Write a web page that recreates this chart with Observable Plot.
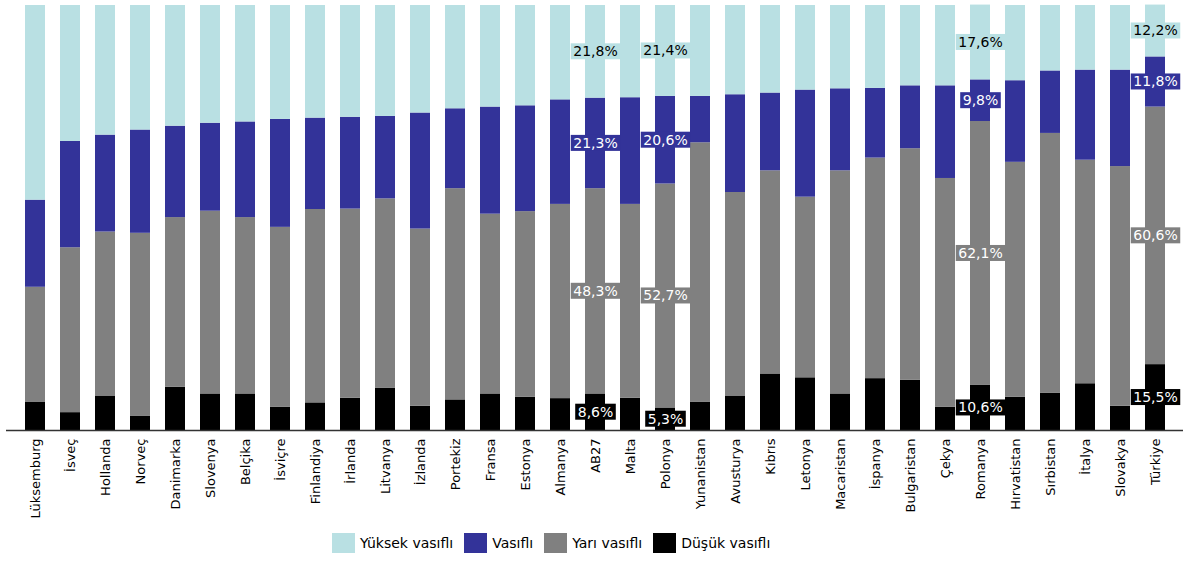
<!DOCTYPE html>
<html>
<head>
<meta charset="utf-8">
<script src="https://cdn.jsdelivr.net/npm/d3@7"></script>
<script src="https://cdn.jsdelivr.net/npm/@observablehq/plot@0.6"></script>
<style>
  html, body { margin: 0; padding: 0; background: #fff; }
  #chart { width: 1196px; }
  .legend { display: flex; align-items: center; margin: 8px 0 0 332px; font-family: "DejaVu Sans", sans-serif; font-size: 14px; color: #000; }
  .legend .sw { width: 23px; height: 20px; margin-right: 5px; }
  .legend .item { display: flex; align-items: center; margin-right: 11px; }
</style>
</head>
<body>
<div id="chart"></div>
<script>
// Countries, in the order drawn
const countries = ["Lüksemburg","İsveç","Hollanda","Norveç","Danimarka","Slovenya","Belçika","İsviçre","Finlandiya","İrlanda","Litvanya","İzlanda","Portekiz","Fransa","Estonya","Almanya","AB27","Malta","Polonya","Yunanistan","Avusturya","Kıbrıs","Letonya","Macaristan","İspanya","Bulgaristan","Çekya","Romanya","Hırvatistan","Sırbistan","İtalya","Slovakya","Türkiye"];

// Share of employment by skill level (%)
const dusuk   = [6.7, 4.2, 8.0, 3.4, 10.2, 8.6, 8.6, 5.5, 6.5, 7.6, 9.9, 5.7, 7.2, 8.6, 7.8, 7.5, 8.6, 7.6, 5.3, 6.6, 8.0, 13.3, 12.4, 8.6, 12.2, 11.8, 5.5, 10.6, 7.8, 8.8, 11.0, 5.7, 15.5];
const yari    = [27.0, 38.8, 38.7, 43.0, 39.9, 43.0, 41.5, 42.3, 45.5, 44.5, 44.6, 41.7, 49.7, 42.3, 43.7, 45.7, 48.3, 45.6, 52.7, 61.1, 48.0, 47.8, 42.5, 52.5, 51.9, 54.5, 53.8, 62.1, 55.3, 61.1, 52.6, 56.4, 60.6];
const vasifli = [20.5, 25.0, 22.8, 24.3, 21.5, 20.7, 22.5, 25.4, 21.5, 21.6, 19.4, 27.3, 18.8, 25.2, 24.9, 24.6, 21.3, 25.1, 20.6, 10.9, 23.0, 18.3, 25.2, 19.3, 16.4, 14.8, 21.8, 9.8, 19.2, 14.7, 21.2, 22.7, 11.8];
const yuksek  = [45.8, 32.0, 30.5, 29.3, 28.4, 27.7, 27.4, 26.8, 26.5, 26.3, 26.1, 25.3, 24.3, 23.9, 23.6, 22.2, 21.8, 21.7, 21.4, 21.4, 21.0, 20.6, 19.9, 19.6, 19.5, 18.9, 18.9, 17.6, 17.7, 15.4, 15.2, 15.2, 12.2];

// Stack order, bottom to top
const series = ["Düşük vasıflı", "Yarı vasıflı", "Vasıflı", "Yüksek vasıflı"];
const colors = ["#000000", "#808080", "#333399", "#b9e0e3"];
const seriesValues = [dusuk, yari, vasifli, yuksek];

// Bars that carry value labels
const labeled = ["AB27", "Polonya", "Romanya", "Türkiye"];

const rows = [];
countries.forEach((c, i) => {
  series.forEach((s, k) => rows.push({country: c, cat: s, value: seriesValues[k][i]}));
});

// Label rows with the mid-point of each stacked segment
const labelRows = [];
labeled.forEach(c => {
  const i = countries.indexOf(c);
  let base = 0;
  series.forEach((s, k) => {
    const v = seriesValues[k][i];
    labelRows.push({country: c, cat: s, value: v, mid: base + v / 2});
    base += v;
  });
});
const fmt = v => v.toFixed(1).replace(".", ",") + "%";
const colorOf = s => colors[series.indexOf(s)];
const darkRows = labelRows.filter(d => d.cat === "Yüksek vasıflı");
const lightRows = labelRows.filter(d => d.cat !== "Yüksek vasıflı");

const chart = Plot.plot({
  width: 1196,
  height: 525,
  marginTop: 5,
  marginBottom: 95,
  marginLeft: 6,
  marginRight: 13,
  style: {fontFamily: "DejaVu Sans, sans-serif", fontSize: "13px", color: "#000", background: "#fff"},
  x: {domain: countries, paddingInner: 0.44, paddingOuter: 0.22, label: null, tickSize: 0, tickRotate: -90, tickPadding: 8},
  y: {domain: [0, 100], axis: null},
  color: {domain: series, range: colors},
  marks: [
    Plot.barY(rows, {x: "country", y: "value", fill: "cat", order: series}),
    Plot.ruleY([0], {stroke: "#333", strokeWidth: 1.5}),
    Plot.text(darkRows, {x: "country", y: "mid", text: d => fmt(d.value), fill: "#000", fontSize: 14}),
    Plot.text(lightRows, {x: "country", y: "mid", text: d => fmt(d.value), fill: "#fff", fontSize: 14})
  ]
});

document.getElementById("chart").appendChild(chart);

// Boxes behind the value labels, filled with the segment colour
const groups = chart.querySelectorAll('g[aria-label="text"]');
[darkRows, lightRows].forEach((data, gi) => {
  const g = groups[gi];
  if (!g) return;
  g.querySelectorAll("text").forEach(t => {
    const i = t.__data__;
    const d = data[i];
    const b = t.getBBox();
    const r = document.createElementNS("http://www.w3.org/2000/svg", "rect");
    r.setAttribute("x", b.x - 2.5);
    r.setAttribute("y", b.y);
    r.setAttribute("width", b.width + 5);
    r.setAttribute("height", b.height);
    r.setAttribute("fill", colorOf(d.cat));
    const tr = t.getAttribute("transform");
    if (tr) r.setAttribute("transform", tr);
    g.insertBefore(r, t);
  });
});

// Legend, listed top to bottom of the stack
const legend = document.createElement("div");
legend.className = "legend";
series.slice().reverse().forEach(s => {
  const item = document.createElement("div");
  item.className = "item";
  const sw = document.createElement("div");
  sw.className = "sw";
  sw.style.background = colorOf(s);
  const lab = document.createElement("span");
  lab.textContent = s;
  item.appendChild(sw);
  item.appendChild(lab);
  legend.appendChild(item);
});
document.getElementById("chart").appendChild(legend);
</script>
</body>
</html>
